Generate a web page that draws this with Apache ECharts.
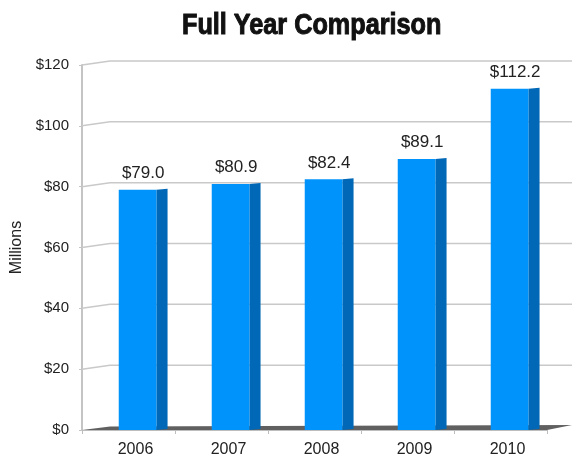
<!DOCTYPE html>
<html>
<head>
<meta charset="utf-8">
<script src="https://cdn.jsdelivr.net/npm/echarts@6/dist/echarts.min.js"></script>
<style>
  html, body { margin: 0; padding: 0; background: #fff; }
  #chart { width: 572px; height: 458px; }
</style>
</head>
<body>
<div id="chart"></div>
<script>
const years = ['2006', '2007', '2008', '2009', '2010']
const revenue = [79.0, 80.9, 82.4, 89.1, 112.2]
const yTicks = [0, 20, 40, 60, 80, 100, 120]

const sans = '"Liberation Sans", Arial, sans-serif'
const frontColor = '#0093fb'
const sideColor = '#0068b6'

// back wall lines + floor, drawn in perspective from the y axis
const renderWall = (params, api) => {
  const cs = params.coordSys
  const v = api.value(1)
  const y = api.coord([0, v])[1]
  const x0 = cs.x
  const x1 = cs.x + cs.width
  if (v === 0) {
    return {
      type: 'polygon',
      shape: { points: [[x0, y], [x0 + 28, y - 3.5], [x1 + 25, y - 5], [x1, y]] },
      style: { fill: '#606060' }
    }
  }
  return {
    type: 'polyline',
    shape: { points: [[x0, y], [x0 + 28, y - 4], [x1 + 25, y - 4]] },
    style: { stroke: '#c9c9c9', lineWidth: 1.5, fill: null }
  }
}

const renderBar = (params, api) => {
  const idx = api.value(0)
  const val = api.value(1)
  const top = api.coord([idx, val])
  const base = api.coord([idx, 0])
  const band = api.size([1, 0])[0]
  const fl = top[0] - band * 0.105
  const fr = top[0] + band * 0.3
  const sr = top[0] + band * 0.42
  return {
    type: 'group',
    children: [
      {
        type: 'polygon',
        shape: { points: [[fr, top[1]], [sr, top[1] - 1], [sr, base[1] - 1], [fr, base[1]]] },
        style: { fill: sideColor }
      },
      {
        type: 'rect',
        shape: { x: fl, y: top[1], width: fr - fl, height: base[1] - top[1] },
        style: { fill: frontColor }
      },
      {
        type: 'text',
        style: {
          text: '$' + val.toFixed(1),
          x: (fl + sr) / 2,
          y: top[1] - 8,
          align: 'center',
          verticalAlign: 'bottom',
          fill: '#222',
          font: '17px ' + sans
        }
      }
    ]
  }
}

const chart = echarts.init(document.getElementById('chart'))
chart.setOption({
  animation: false,
  graphic: [
    {
      type: 'text',
      x: 182,
      y: 11,
      scaleX: 0.87,
      style: {
        text: 'Full Year Comparison',
        font: 'bold 29px ' + sans,
        fill: '#111',
        stroke: '#111',
        lineWidth: 1
      }
    }
  ],
  grid: { left: 82, right: 25, top: 65, bottom: 28, outerBoundsMode: 'none' },
  xAxis: {
    type: 'category',
    data: years,
    axisLine: { lineStyle: { color: '#bdbdbd', width: 1 } },
    axisTick: { show: true, length: 4, lineStyle: { color: '#bdbdbd' } },
    axisLabel: {
      margin: 12,
      padding: [0, 0, 0, 14],
      fontFamily: sans,
      fontSize: 16,
      color: '#222'
    }
  },
  yAxis: {
    type: 'value',
    min: 0,
    max: 120,
    interval: 20,
    name: 'Millions',
    nameLocation: 'middle',
    nameRotate: 90,
    nameGap: 56,
    nameTextStyle: { fontFamily: sans, fontSize: 16, color: '#222' },
    axisLine: { show: true, lineStyle: { color: '#c4c4c4', width: 2 } },
    axisTick: { show: true, length: 3, lineStyle: { color: '#c4c4c4' } },
    splitLine: { show: false },
    axisLabel: {
      margin: 13,
      formatter: '${value}',
      fontFamily: sans,
      fontSize: 15,
      color: '#222'
    }
  },
  series: [
    {
      type: 'custom',
      z: 1,
      silent: true,
      renderItem: renderWall,
      data: yTicks.map((v) => [0, v])
    },
    {
      type: 'custom',
      z: 2,
      renderItem: renderBar,
      data: revenue.map((v, i) => [i, v])
    }
  ]
})
</script>
</body>
</html>
